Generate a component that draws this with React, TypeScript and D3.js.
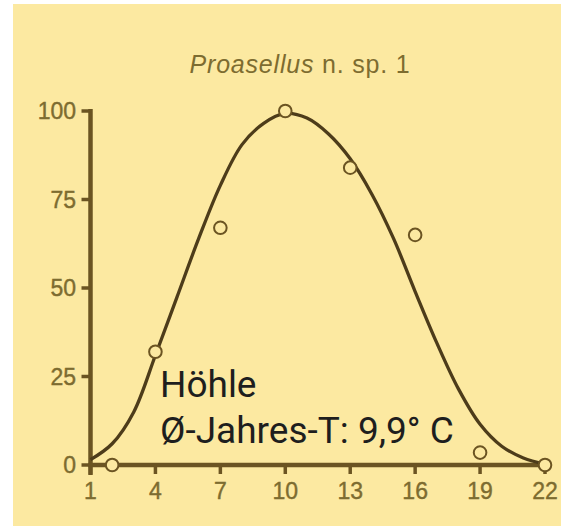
import React from 'react';
import * as d3 from 'd3';

// measured points (temperature °C -> relative value %)
const pointTemps = [2, 4, 7, 10, 13, 16, 19, 22];
const pointValues = [0, 32, 67, 100, 84, 65, 3.5, 0];

// fitted curve
const curveTemps = [1, 2, 3, 4, 5, 6, 7, 8, 9, 10, 11, 12, 13, 14, 15, 16, 17, 18, 19, 20, 21, 22];
const curveValues = [1.5, 6, 15, 31, 47.5, 64, 79, 90.5, 96.5, 99.3, 98, 93.5, 86.5, 76.5, 64, 49, 34.5, 21.5, 11.5, 5.3, 2, 0.3];

const xTicks = [1, 4, 7, 10, 13, 16, 19, 22];
const yTicks = [0, 25, 50, 75, 100];

const title = 'Proasellus';
const titleRest = ' n. sp. 1';
const noteLines = ['Höhle', 'Ø-Jahres-T: 9,9° C'];

const W = 561;
const H = 526;
const BG = '#fce9a1';
const AXIS = '#6b5422';
const LABEL = '#7d6c30';
const CURVE = '#4d3c1a';

export default function App() {
    const x = d3.scaleLinear().domain([1, 22]).range([90.5, 545]);
    const y = d3.scaleLinear().domain([0, 100]).range([465, 111]);

    const curvePath = d3.line<number>()
        .x((d, i) => x(curveTemps[i]))
        .y((d) => y(d))
        .curve(d3.curveCatmullRom.alpha(0.5))(curveValues);

    return (
        <svg width={W} height={H} style={{ position: 'absolute', left: 0, top: 0, background: '#fff' }}>
            <rect x={13} y={4} width={W - 13} height={H - 4} fill={BG} />

            <text x={300} y={73} textAnchor="middle" fontFamily="Liberation Sans, Arial, sans-serif"
                fontSize={25} fill={LABEL} letterSpacing={0.8}>
                <tspan fontStyle="italic">{title}</tspan>
                <tspan>{titleRest}</tspan>
            </text>

            {/* y axis */}
            <line x1={x(1)} x2={x(1)} y1={y(100) - 2} y2={y(0) + 10} stroke={AXIS} strokeWidth={4.5} />
            {yTicks.map((t) => (
                <g key={'y' + t}>
                    <line x1={x(1) - 9} x2={x(1)} y1={y(t)} y2={y(t)} stroke={AXIS} strokeWidth={3.5} />
                    <text x={76} y={y(t)} dy="0.36em" textAnchor="end" fontFamily="Liberation Sans, Arial, sans-serif"
                        fontSize={23} fill={LABEL} stroke={LABEL} strokeWidth={0.4}>{t}</text>
                </g>
            ))}

            {/* x axis */}
            <line x1={x(1) - 2} x2={x(22)} y1={y(0)} y2={y(0)} stroke={AXIS} strokeWidth={4.5} />
            {xTicks.map((t) => (
                <g key={'x' + t}>
                    <line x1={x(t)} x2={x(t)} y1={y(0)} y2={y(0) + 9} stroke={AXIS} strokeWidth={3.5} />
                    <text x={x(t)} y={499} textAnchor="middle" fontFamily="Liberation Sans, Arial, sans-serif"
                        fontSize={23} fill={LABEL} stroke={LABEL} strokeWidth={0.4}>{t}</text>
                </g>
            ))}

            <path d={curvePath || ''} fill="none" stroke={CURVE} strokeWidth={3.3} />

            {pointTemps.map((t, i) => (
                <circle key={'p' + t} cx={x(t)} cy={y(pointValues[i])} r={6.3} fill={BG} stroke={AXIS} strokeWidth={2} />
            ))}

            <text fontFamily="Roboto, sans-serif" fontSize={37} fill="#1e1e1e">
                {noteLines.map((l, i) => (
                    <tspan key={l} x={160} y={397 + i * 46}>{l}</tspan>
                ))}
            </text>
        </svg>
    );
}
